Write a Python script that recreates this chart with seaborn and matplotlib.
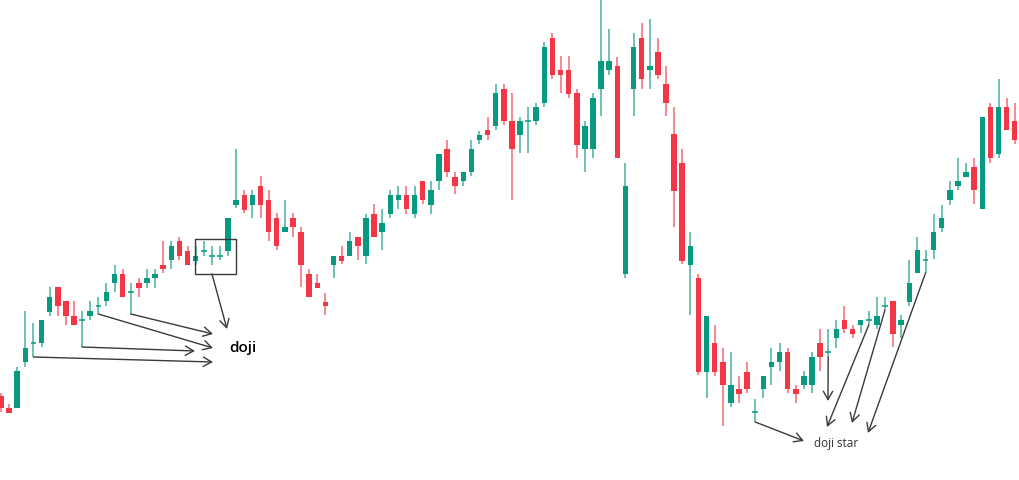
import matplotlib
matplotlib.use("Agg")
import matplotlib.pyplot as plt
import seaborn as sns
import numpy as np
import pandas as pd
from matplotlib.patches import Rectangle

# ---- data (price units) ----
opens = [84, 72, 72, 118, 137, 137, 168, 193, 179, 164, 160, 164, 174, 179, 197, 206, 188, 197, 197, 202,
         215, 220, 239, 229, 219, 229, 224, 224, 229, 275, 285, 275, 294, 280, 262, 248, 262, 248, 206, 197,
         178, 215, 224, 224, 243, 224, 266, 248, 266, 280, 285, 266, 299, 275, 299, 331, 303, 299, 308, 340,
         350, 354, 391, 359, 345, 359, 359, 377, 442, 410, 410, 387, 331, 331, 391, 410, 414, 206, 391, 442,
         410, 428, 396, 346, 317, 215, 202, 108, 137, 118, 77, 91, 108, 68, 91, 113, 118, 128, 91, 95,
         95, 137, 128, 142, 160, 151, 155, 160, 155, 174, 179, 155, 178, 207, 220, 230, 252, 280, 294, 303,
         313, 271, 373, 326, 373, 359]
highs = [87, 76, 113, 169, 157, 160, 193, 193, 179, 179, 169, 179, 183, 197, 215, 211, 197, 202, 211, 211,
         239, 239, 243, 234, 234, 239, 234, 234, 262, 331, 290, 290, 304, 290, 267, 280, 267, 253, 211, 206,
         187, 224, 234, 248, 243, 266, 276, 271, 290, 294, 294, 294, 299, 299, 326, 340, 308, 308, 340, 349,
         363, 396, 396, 387, 363, 373, 377, 438, 447, 424, 424, 391, 359, 387, 480, 451, 423, 317, 447, 457,
         461, 442, 414, 373, 331, 248, 206, 164, 155, 132, 128, 104, 118, 81, 104, 132, 137, 132, 95, 109,
         128, 151, 151, 160, 174, 155, 160, 169, 183, 183, 179, 165, 220, 243, 230, 266, 275, 299, 322, 317,
         322, 363, 377, 401, 382, 377]
lows = [68, 67, 72, 113, 123, 133, 164, 164, 155, 155, 133, 160, 166, 174, 188, 183, 166, 183, 192, 192,
        207, 211, 220, 215, 215, 224, 215, 220, 224, 272, 267, 262, 262, 239, 230, 248, 243, 193, 183, 192,
        165, 202, 216, 224, 220, 216, 243, 230, 262, 271, 266, 262, 276, 266, 290, 303, 286, 294, 304, 336,
        340, 350, 355, 280, 327, 327, 355, 373, 401, 387, 382, 322, 308, 322, 364, 405, 322, 202, 364, 391,
        391, 401, 364, 253, 216, 165, 105, 82, 104, 54, 73, 77, 87, 58, 82, 95, 109, 87, 77, 91,
        87, 109, 123, 132, 147, 142, 147, 155, 151, 170, 133, 142, 174, 207, 207, 221, 248, 275, 290, 303,
        276, 271, 317, 322, 350, 336]
closes = [72, 67, 109, 132, 137, 160, 183, 174, 164, 155, 160, 169, 174, 188, 206, 183, 188, 192, 202, 206,
          211, 234, 224, 215, 224, 229, 224, 224, 262, 280, 270, 285, 275, 248, 234, 253, 253, 215, 183, 192,
          174, 224, 219, 239, 234, 262, 243, 257, 285, 285, 271, 285, 280, 290, 326, 308, 294, 308, 331, 345,
          345, 387, 359, 331, 359, 359, 373, 433, 405, 405, 386, 335, 354, 382, 419, 419, 322, 294, 433, 401,
          414, 405, 377, 289, 219, 234, 108, 164, 108, 95, 95, 86, 91, 68, 104, 118, 128, 91, 86, 104,
          123, 123, 128, 151, 151, 146, 160, 160, 164, 174, 146, 160, 197, 230, 220, 248, 262, 290, 299, 308,
          290, 363, 322, 373, 350, 340]

label_doji = "doji"
label_star = "doji star"

GREEN = "#089981"
RED = "#F23645"

df = pd.DataFrame({"open": opens, "high": highs, "low": lows, "close": closes})
df["idx"] = np.arange(len(df))
df["up"] = df["close"] >= df["open"]
df["color"] = np.where(df["up"], GREEN, RED)
df["doji"] = (df["close"] - df["open"]).abs() < 1

sns.set_theme(style="white")
plt.rcParams["font.family"] = ["Open Sans", "DejaVu Sans"]

fig = plt.figure(figsize=(10.2, 4.8), dpi=100)
ax = fig.add_axes([0, 0, 1, 1])
ax.set_xlim(-0.123, 125.65)
ax.set_ylim(0, 480)
ax.axis("off")

# wicks
ax.vlines(df["idx"], df["low"], df["high"], colors=df["color"], linewidth=1.1, alpha=0.75, zorder=2)

# bodies
body = df[~df["doji"]]
ax.bar(body["idx"], body["close"] - body["open"], bottom=body["open"], width=0.68,
       color=body["color"], edgecolor="none", zorder=3)
dj = df[df["doji"]]
ax.hlines(dj["close"], dj["idx"] - 0.34, dj["idx"] + 0.34, colors=GREEN, linewidth=1.1, zorder=3)

ARROW = dict(arrowstyle="->,head_length=0.5,head_width=0.28", color="#3a3a3a", lw=1.0,
             shrinkA=0, shrinkB=0, mutation_scale=12)

def px2d(px, py):
    return ((px - 1) / 8.11, 480 - py)

# doji group (left)
left_targets = {4: (213, 362), 10: (195, 351), 12: (213, 348), 16: (213, 334)}
for i, (tx, ty) in left_targets.items():
    ax.annotate("", xy=px2d(tx, ty), xytext=(i, lows[i]), arrowprops=ARROW, zorder=4)

x0, y0 = px2d(195, 274)
x1, y1 = px2d(236, 239)
ax.add_patch(Rectangle((x0, y0), x1 - x0, y1 - y0, fill=False, edgecolor="#3a3a3a", lw=1.0, zorder=4))
ax.annotate("", xy=px2d(227, 329), xytext=px2d(212, 274), arrowprops=ARROW, zorder=4)
ax.text(*px2d(243, 348), label_doji, ha="center", va="center", fontsize=11, color="#000000",
        fontweight="semibold")

# doji star group (right)
right_targets = {93: (804, 441), 102: (828, 401), 107: (827, 427), 109: (852, 423), 114: (868, 433)}
for i, (tx, ty) in right_targets.items():
    ax.annotate("", xy=px2d(tx, ty), xytext=(i, lows[i]), arrowprops=ARROW, zorder=4)
ax.text(*px2d(836, 443), label_star, ha="center", va="center", fontsize=8.5, color="#333333")

fig.savefig("out.png", dpi=100, facecolor="white")
